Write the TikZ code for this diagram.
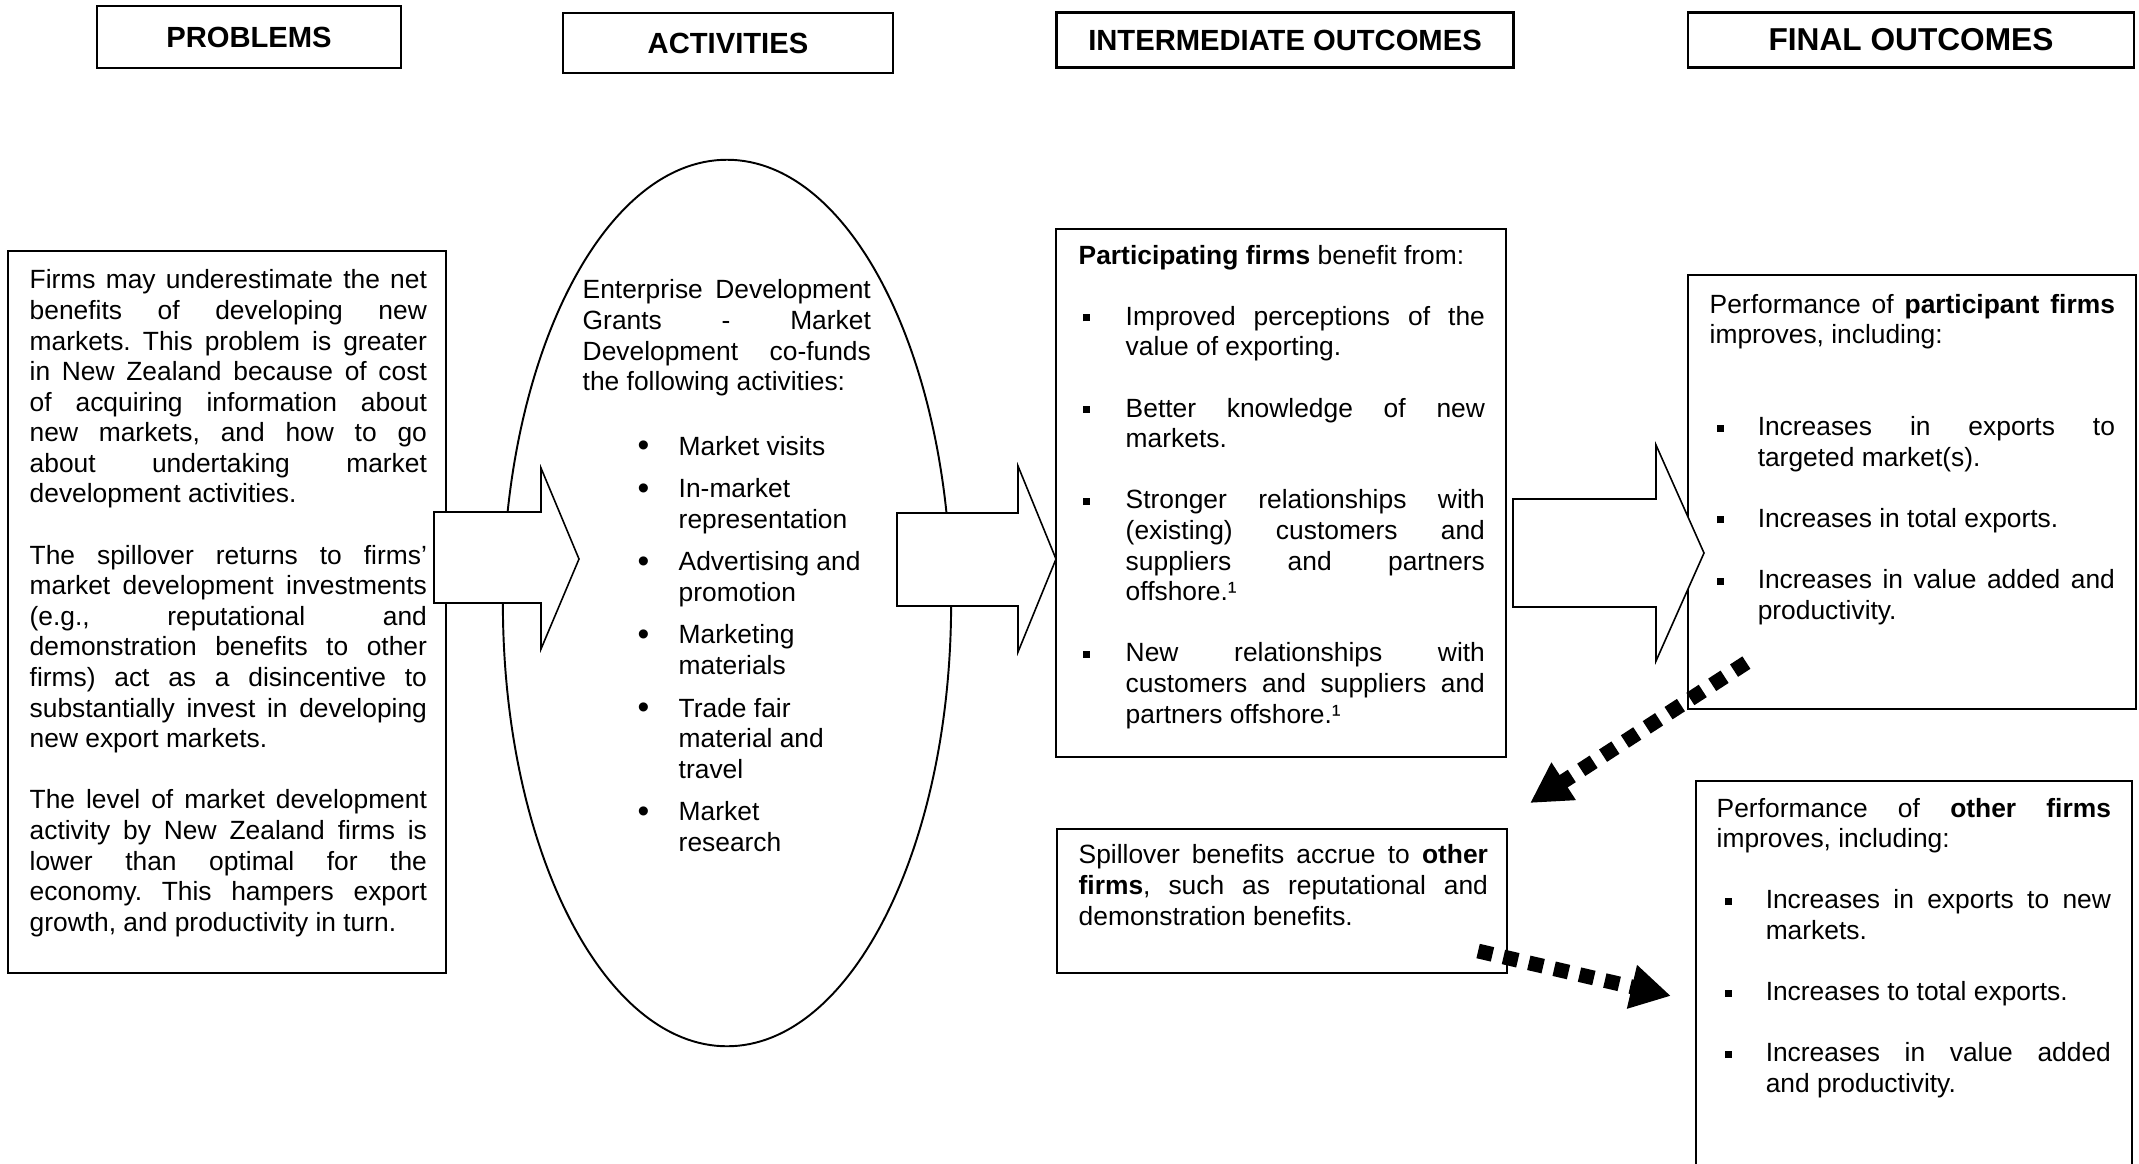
\documentclass[tikz,border=0pt]{standalone}
\usepackage{fontspec}
\setmainfont{Liberation Sans}
\usetikzlibrary{shapes.geometric, arrows.meta, calc}
\tolerance=10000
\hbadness=10000
\frenchspacing
\newcommand{\sqbul}{\rule[1.1pt]{2pt}{2pt}}
\newcommand{\rndbul}{\raisebox{-0.4pt}{\fontsize{9.5}{9.5}\selectfont\textbullet}}
\newcommand{\bodyfont}{\fontsize{7.5}{8.7}\selectfont}

\begin{document}
\begin{tikzpicture}[x=0.01cm, y=-0.01cm,
  head box/.style={draw, line width=0.7pt, inner sep=0pt, font=\bfseries\fontsize{8.3}{10}\selectfont},
  frame box/.style={draw, line width=0.55pt, inner sep=0pt},
  body text/.style={inner sep=0pt, anchor=north west, font=\bodyfont},
  big arrow/.style={draw, fill=white, line width=0.45pt},
  spill arrow/.style={line width=4.2pt, dash pattern=on 4.2pt off 3.2pt, -{Triangle[length=0.4cm, width=0.42cm]}}]

\useasboundingbox (0,0) rectangle (2139,1163);
\clip (0,0) rectangle (2139,1163);

% column headings
\node[head box, minimum width=3.04cm, minimum height=0.62cm] (probhead) at (249,37) {PROBLEMS};
\node[head box, minimum width=3.30cm, minimum height=0.60cm] (acthead) at (728,43) {ACTIVITIES};
\node[head box, minimum width=4.57cm, minimum height=0.55cm] (interhead) at (1285,40) {INTERMEDIATE OUTCOMES};
\node[head box, minimum width=4.46cm, minimum height=0.55cm, font=\bfseries\fontsize{9}{10}\selectfont] (finalhead) at (1911,40) {FINAL OUTCOMES};

% frames
\node[frame box, minimum width=4.38cm, minimum height=7.22cm] (probbox) at (227,612) {};
\node[draw, ellipse, line width=0.55pt, inner sep=0pt, minimum width=4.48cm, minimum height=8.86cm] (actell) at (727,603) {};
\node[frame box, minimum width=4.49cm, minimum height=5.28cm] (partbox) at (1281,493) {};
\node[frame box, minimum width=4.50cm, minimum height=1.44cm] (spillbox) at (1282,901) {};
\node[frame box, minimum width=4.47cm, minimum height=4.33cm] (partfinbox) at (1912,492) {};
\node[frame box, minimum width=4.36cm, minimum height=4.20cm] (otherbox) at (1914,991) {};

% big arrows
\draw[big arrow] (434,512) -- (541,512) -- (541,468) -- (579,559) -- (541,649) -- (541,603) -- (434,603) -- cycle;
\draw[big arrow] (897,513) -- (1018,513) -- (1018,466) -- (1056,559) -- (1018,652) -- (1018,606) -- (897,606) -- cycle;
\draw[big arrow] (1513,499) -- (1656,499) -- (1656,445) -- (1704,553) -- (1656,661) -- (1656,607) -- (1513,607) -- cycle;

% problems
\node[body text, text width=3.97cm, align=justify] (probtext) at (29,269) {%
Firms may underestimate the net\linebreak benefits of developing new\linebreak
markets. This problem is greater\linebreak in New Zealand because of cost\linebreak
of acquiring information about\linebreak new markets, and how to go\linebreak
about undertaking market\linebreak development activities.\par\vspace{8.7pt}
The spillover returns to firms’\linebreak market development investments\linebreak
(e.g., reputational and\linebreak demonstration benefits to other\linebreak
firms) act as a disincentive to\linebreak substantially invest in developing\linebreak
new export markets.\par\vspace{8.7pt}
The level of market development\linebreak activity by New Zealand firms is\linebreak
lower than optimal for the\linebreak economy. This hampers export\linebreak
growth, and productivity in turn.};

% activities
\node[body text, text width=2.88cm, align=justify] (acttext) at (582,279) {%
Enterprise Development\linebreak Grants - Market\linebreak
Development co-funds\linebreak the following activities:};
\node[body text] (actlist) at (637,433) {%
\begin{tabular}[t]{@{}p{0.41cm}@{}l@{}}
\rndbul & Market visits\\[3.4pt]
\rndbul & In-market\\ & representation\\[3.4pt]
\rndbul & Advertising and\\ & promotion\\[3.4pt]
\rndbul & Marketing\\ & materials\\[3.4pt]
\rndbul & Trade fair\\ & material and\\ & travel\\[3.4pt]
\rndbul & Market\\ & research
\end{tabular}};

% intermediate outcomes
\node[body text] (parttext) at (1078,242) {%
\begin{tabular}[t]{@{}p{0.47cm}@{}p{3.59cm}@{}}
\multicolumn{2}{@{}l@{}}{\textbf{Participating firms} benefit from:}\\[8.7pt]
\hspace{0.04cm}\sqbul & Improved perceptions of the\linebreak value of exporting.\\[8.7pt]
\hspace{0.04cm}\sqbul & Better knowledge of new\linebreak markets.\\[8.7pt]
\hspace{0.04cm}\sqbul & Stronger relationships with\linebreak (existing) customers and\linebreak suppliers and partners\linebreak offshore.¹\\[8.7pt]
\hspace{0.04cm}\sqbul & New relationships with\linebreak customers and suppliers and\linebreak partners offshore.¹
\end{tabular}};
\node[body text, text width=4.09cm, align=justify] (spilltext) at (1078,844) {%
Spillover benefits accrue to \textbf{other}\linebreak \textbf{firms}, such as reputational and\linebreak demonstration benefits.};

% final outcomes
\node[body text] (partfintext) at (1709,291) {%
\begin{tabular}[t]{@{}p{0.48cm}@{}p{3.57cm}@{}}
\multicolumn{2}{@{}p{4.05cm}@{}}{Performance of \textbf{participant firms}\linebreak improves, including:}\\
 & \\
 & \\
\hspace{0.07cm}\sqbul & Increases in exports to\linebreak targeted market(s).\\[8.7pt]
\hspace{0.07cm}\sqbul & Increases in total exports.\\[8.7pt]
\hspace{0.07cm}\sqbul & Increases in value added and\linebreak productivity.
\end{tabular}};
\node[body text] (othertext) at (1716,795) {%
\begin{tabular}[t]{@{}p{0.49cm}@{}p{3.45cm}@{}}
\multicolumn{2}{@{}p{3.94cm}@{}}{Performance of \textbf{other firms}\linebreak improves, including:}\\
 & \\
\hspace{0.08cm}\sqbul & Increases in exports to new\linebreak markets.\\[8.7pt]
\hspace{0.08cm}\sqbul & Increases to total exports.\\[8.7pt]
\hspace{0.08cm}\sqbul & Increases in value added\linebreak and productivity.
\end{tabular}};

% spillover arrows
\coordinate (s1from) at ($(partfinbox.south west)+(59,-47)$);
\coordinate (s1to) at ($(spillbox.north east)+(22,-25)$);
\coordinate (s2from) at ($(spillbox.south east)+(-30,-23)$);
\coordinate (s2to) at ($(otherbox.north west)+(-24,216)$);
\draw[spill arrow] (s1from) -- (s1to);
\draw[spill arrow] (s2from) -- (s2to);
\end{tikzpicture}
\end{document}
